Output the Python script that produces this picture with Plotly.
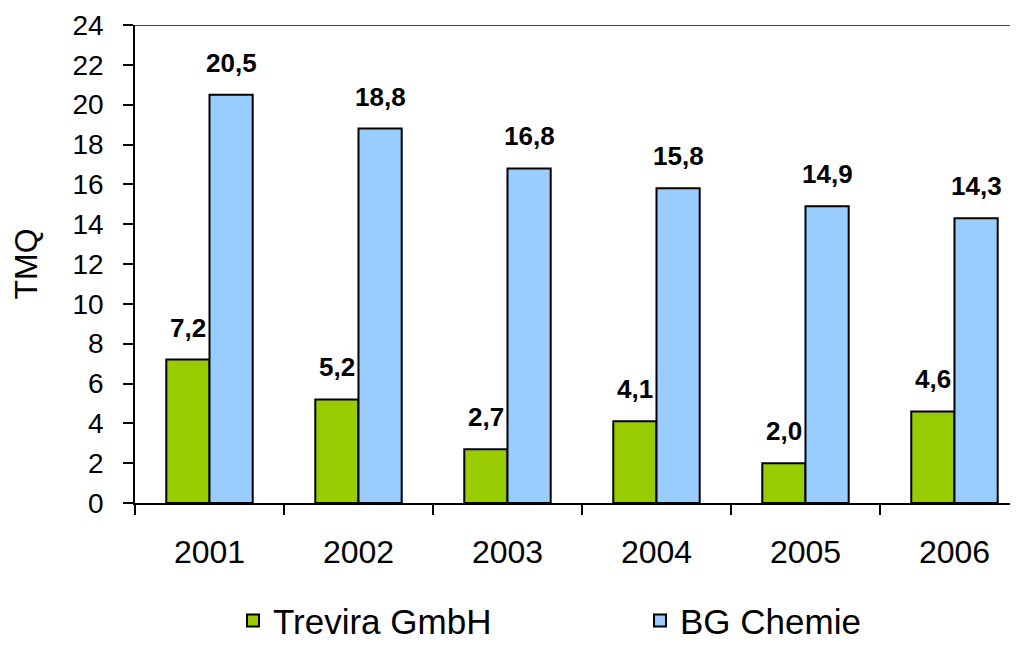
import plotly.graph_objects as go

years = ["2001", "2002", "2003", "2004", "2005", "2006"]
trevira = [7.2, 5.2, 2.7, 4.1, 2.0, 4.6]
bg_chemie = [20.5, 18.8, 16.8, 15.8, 14.9, 14.3]
trevira_labels = ["7,2", "5,2", "2,7", "4,1", "2,0", "4,6"]
bg_labels = ["20,5", "18,8", "16,8", "15,8", "14,9", "14,3"]
y_ticks = list(range(0, 25, 2))

FONT = "Liberation Sans, Arial, sans-serif"

fig = go.Figure()
fig.add_trace(go.Bar(x=years, y=trevira, name="Trevira GmbH",
                     marker=dict(color="#99CC00", line=dict(color="black", width=2))))
fig.add_trace(go.Bar(x=years, y=bg_chemie, name="BG Chemie",
                     marker=dict(color="#99CCFF", line=dict(color="black", width=2))))

off = 0.145
for i in range(len(years)):
    fig.add_annotation(x=i - off, y=trevira[i], xref="x", yref="y", text="<b>%s</b>" % trevira_labels[i],
                       showarrow=False, yanchor="middle", yshift=32,
                       font=dict(size=26, color="black", family=FONT))
    fig.add_annotation(x=i + off, y=bg_chemie[i], xref="x", yref="y", text="<b>%s</b>" % bg_labels[i],
                       showarrow=False, yanchor="middle", yshift=32,
                       font=dict(size=26, color="black", family=FONT))

fig.add_shape(type="line", xref="paper", yref="y", x0=0, x1=1, y0=24, y1=24,
              line=dict(color="black", width=1.5))

fig.update_layout(
    width=1018, height=645,
    margin=dict(l=127, r=0, t=17, b=150),
    plot_bgcolor="white", paper_bgcolor="white",
    barmode="group", bargap=0.42, bargroupgap=0,
    font=dict(family=FONT, color="black"),
    showlegend=True,
    legend=dict(orientation="h", xref="container", yref="container",
                x=0.221, xanchor="left", y=0.05, yanchor="middle",
                font=dict(size=35, family=FONT), entrywidth=362, entrywidthmode="pixels",
                traceorder="normal", itemsizing="constant"),
    xaxis=dict(type="category", range=[-0.5, 5.48], showline=True, linecolor="black", linewidth=1.5,
               ticks="outside", tickson="boundaries", ticklen=10, tickcolor="black", tickwidth=1.5,
               tickfont=dict(size=32, family=FONT), ticklabelstandoff=20, showgrid=False,
               automargin=False),
    yaxis=dict(range=[0, 24], tickvals=y_ticks, showline=True, linecolor="black", linewidth=1.5,
               ticks="outside", ticklen=10, tickcolor="black", tickwidth=1.5,
               tickfont=dict(size=28, family=FONT), ticklabelstandoff=14, showgrid=False,
               zeroline=False, automargin=False,
               title=dict(text="TMQ", font=dict(size=32, family=FONT), standoff=30)),
)

fig.write_html("out.html")
